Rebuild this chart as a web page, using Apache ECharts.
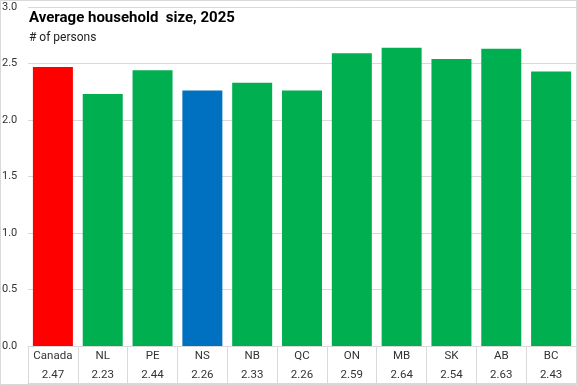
<!DOCTYPE html>
<html><head><meta charset="utf-8">
<script src="https://cdn.jsdelivr.net/npm/echarts@6/dist/echarts.min.js"></script>
<style>html,body{margin:0;padding:0;background:#fff}#c{width:577px;height:385px}</style>
</head><body><div id="c"></div>
<script>
const categories = ['Canada','NL','PE','NS','NB','QC','ON','MB','SK','AB','BC'];
const values = [2.47,2.23,2.44,2.26,2.33,2.26,2.59,2.64,2.54,2.63,2.43];
const barColors = ['#FF0000','#00B050','#00B050','#0070C0','#00B050','#00B050','#00B050','#00B050','#00B050','#00B050','#00B050'];
const yTicks = [0,0.5,1,1.5,2,2.5,3];

const chart = echarts.init(document.getElementById('c'), null, {renderer:'canvas'});
const font = 'Roboto, "Liberation Sans", sans-serif';
chart.setOption({
  animation:false,
  textStyle:{fontFamily:font},
  title:{text:'Average household  size, 2025', subtext:'# of persons', left:24, top:6,
    itemGap:6,
    textStyle:{fontSize:15, fontWeight:'bold', color:'#000', fontFamily:font},
    subtextStyle:{fontSize:12, color:'#222', fontFamily:font}},
  grid:{left:28, right:1, top:7, bottom:39, containLabel:false, outerBoundsMode:'none'},
  xAxis:[{type:'category', data:categories, boundaryGap:true,
    axisLine:{show:true, lineStyle:{color:'#d9d9d9'}},
    axisTick:{show:true, length:37, lineStyle:{color:'#d9d9d9'}},
    axisLabel:{interval:0, margin:1, color:'#333', fontSize:11.5,
      formatter:(v, i)=>v+'\n'+values[i].toFixed(2), lineHeight:19}},
    {type:'category', data:categories, position:'bottom', offset:37,
     axisLine:{show:true, lineStyle:{color:'#d9d9d9'}}, axisTick:{show:false}, axisLabel:{show:false}}],
  yAxis:{type:'value', min:0, max:3, interval:0.5,
    axisLine:{show:false}, axisTick:{show:false},
    splitLine:{lineStyle:{color:'#d9d9d9'}},
    axisLabel:{align:'left', margin:26, color:'#333', fontSize:11, formatter:v=>v.toFixed(1)}},
  series:[{type:'bar', barWidth:40, data:values.map((v,i)=>({value:v, itemStyle:{color:barColors[i]}}))}],
  graphic:[{type:'rect', shape:{x:0.5,y:0.5,width:576,height:384}, style:{fill:'none', stroke:'#d9d9d9'}, silent:true, z:-1}]
});
</script></body></html>
